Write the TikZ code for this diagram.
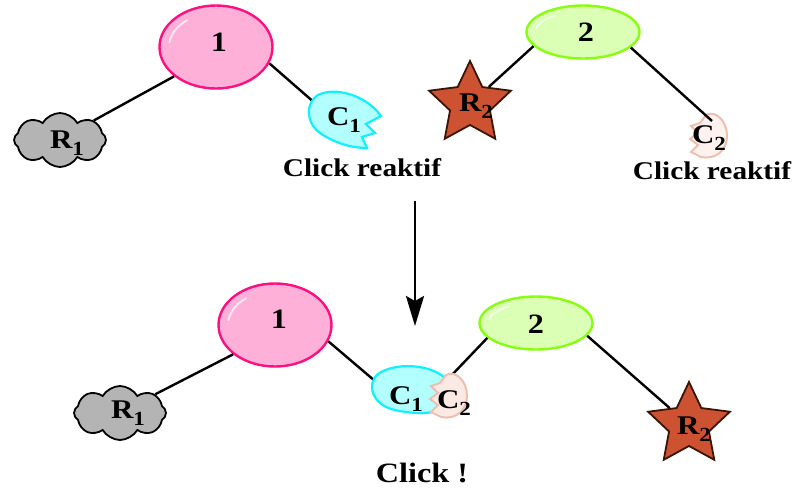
\documentclass[tikz,border=0pt]{standalone}
\usepackage{fontspec}
\setmainfont{Liberation Serif}[FakeStretch=1.15]
\usetikzlibrary{shapes.geometric,shapes.symbols,arrows.meta}
\definecolor{pinkfill}{HTML}{FFB0D8}
\definecolor{pinkdraw}{HTML}{FF1080}
\definecolor{greenfill}{HTML}{DAFFB5}
\definecolor{greendraw}{HTML}{88FF11}
\definecolor{cyanfill}{HTML}{B3FFFF}
\definecolor{cyandraw}{HTML}{11F0FF}
\definecolor{ctwofill}{HTML}{FBEAE4}
\definecolor{ctwodraw}{HTML}{EBC0B0}
\definecolor{starfill}{HTML}{CC5232}
\definecolor{stardraw}{HTML}{3A1505}
\definecolor{cloudfill}{HTML}{B4B4B4}
\newcommand\mysub[1]{\raisebox{-0.28em}{\fontsize{20}{20}\selectfont #1}}
\begin{document}
\begin{tikzpicture}[x=1pt,y=-1pt,
  link/.style={line width=2.4pt, black},
  oval/.style={ellipse, line width=2.4pt, inner sep=0pt},
  oneoval/.style={oval, fill=pinkfill, draw=pinkdraw, minimum width=113pt, minimum height=83pt},
  twooval/.style={oval, fill=greenfill, draw=greendraw, minimum width=113pt, minimum height=53pt},
  shine/.style={white!70!pinkfill, line width=2pt, line cap=round},
  shinegreen/.style={white!60!greenfill, line width=2pt, line cap=round},
  rcloud/.style={cloud, cloud puffs=8, cloud puff arc=120, aspect=1.6, fill=cloudfill, draw=black, line width=1.8pt, minimum width=92pt, minimum height=54pt, inner sep=0pt},
  rstar/.style={star, star points=5, star point ratio=2.05, minimum size=86pt, inner sep=0pt, fill=starfill, draw=stardraw, line width=1.8pt},
  cone/.style={fill=cyanfill, draw=cyandraw, line width=2.2pt},
  ctwo/.style={fill=ctwofill, draw=ctwodraw, line width=2pt},
  lbl/.style={font=\bfseries\fontsize{27}{27}\selectfont, inner sep=0pt, anchor=base},
  numlbl/.style={font=\bfseries\fontsize{28}{28}\selectfont, inner sep=0pt, anchor=base},
  caption/.style={font=\bfseries\fontsize{25.5}{25.5}\selectfont, inner sep=0pt, anchor=base},
]
\useasboundingbox (0,0) rectangle (796,488);

% ---------- top left ----------
\node[oneoval] (e1) at (216,47) {};
\draw[shine] ([shift={(216,47)}]188:47 and 34) arc[start angle=188, end angle=232, x radius=47, y radius=34];
\node[rcloud] (r1) at (60,140) {};
\coordinate (c1in) at (316,104);
\draw[link] (e1.215) -- (r1.30);
\draw[link] (e1.-17) -- (c1in);
\filldraw[cone] (381,116) -- (366,124) -- (375,133) -- (362,137) -- (367,148)
  .. controls (350,148) and (333,142) .. (320,133)
  .. controls (306,123) and (305,103) .. (318,95)
  .. controls (336,86) and (367,96) .. cycle;
\node[numlbl] (n1) at (219,51) {1};
\node[lbl] (r1lbl) at (67,148) {R\mysub{1}};
\node[lbl] (c1lbl) at (344,125) {C\mysub{1}};
\node[caption] (cap1) at (362,176) {Click reaktif};

% ---------- top right ----------
\node[twooval] (e2) at (583,32) {};
\draw[shinegreen] ([shift={(583,32)}]190:48 and 20) arc[start angle=190, end angle=235, x radius=48, y radius=20];
\node[rstar] (s2) at (470,104) {};
\begin{scope}[shift={(260,-260)}]
\filldraw[ctwo, fill=ctwofill!60!white] (446,375) .. controls (456,370) and (467,381) .. (467,396)
  .. controls (467,411) and (455,420) .. (441,417) -- (431,412) -- (438,405) -- (430,399)
  -- (438,393) -- (431,386) -- (440,383) -- cycle;
\end{scope}
\coordinate (c2in) at (712,121);
\draw[link] (e2.196) -- (s2);
\draw[link] (e2.-18) -- (c2in);
\node[numlbl] (n2) at (586,41) {2};
\node[lbl] (r2lbl) at (476,111) {R\mysub{2}};
\node[lbl] (c2lbl) at (709,143) {C\mysub{2}};
\node[caption] (cap2) at (712,179) {Click reaktif};

% ---------- arrow ----------
\coordinate (a1) at (415,201);
\coordinate (a2) at (415,326);
\draw[line width=2.8pt, -{Stealth[length=30pt, width=18pt, inset=5pt]}] (a1) -- (a2);

% ---------- bottom ----------
\node[oneoval] (E1) at (275,325) {};
\draw[shine] ([shift={(275,325)}]188:47 and 34) arc[start angle=188, end angle=232, x radius=47, y radius=34];
\node[twooval] (E2) at (536,323) {};
\draw[shinegreen] ([shift={(536,323)}]190:48 and 20) arc[start angle=190, end angle=235, x radius=48, y radius=20];
\node[rcloud] (R1) at (120,413) {};
\node[rstar] (S2) at (689,425) {};
\coordinate (C1in) at (375,381);
\coordinate (C2in) at (449,378);
\draw[link] (E1.215) -- (R1.28);
\draw[link] (E1.-17) -- (C1in);
\draw[link] (E2.197) -- (C2in);
\draw[link] (E2.-14) -- (S2);
\filldraw[cone] (445,378) .. controls (430,364) and (395,362) .. (378,374)
  .. controls (366,384) and (372,405) .. (395,410)
  .. controls (412,414) and (430,414) .. (442,410) -- cycle;
\filldraw[ctwo] (446,375) .. controls (456,370) and (467,381) .. (467,396)
  .. controls (467,411) and (455,420) .. (441,417) -- (431,412) -- (438,405) -- (430,399)
  -- (438,393) -- (431,386) -- (440,383) -- cycle;
\node[numlbl] (N1) at (279,328) {1};
\node[numlbl] (N2) at (536,333) {2};
\node[lbl] (R1lbl) at (128,418) {R\mysub{1}};
\node[lbl] (R2lbl) at (694,434) {R\mysub{2}};
\node[lbl] (C1lbl) at (406,404) {C\mysub{1}};
\node[lbl] (C2lbl) at (454,408) {C\mysub{2}};
\node[caption, font=\bfseries\fontsize{28}{28}\selectfont] (cap3) at (422,482) {Click !};
\end{tikzpicture}
\end{document}
